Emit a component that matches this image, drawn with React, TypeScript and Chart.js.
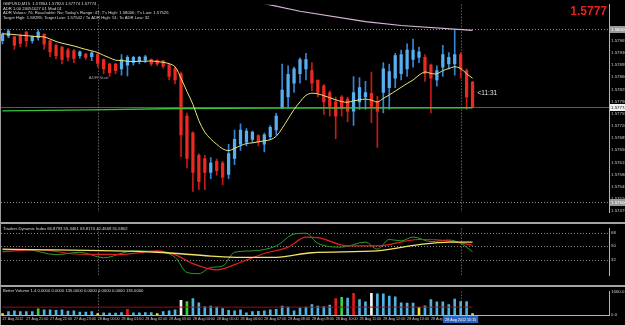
import React, { useEffect, useRef } from "react";
import { Chart, registerables } from "chart.js";

Chart.register(...registerables);

// ---------------- data ----------------
const HEADER_LINES = [
  "GBPUSD,M15  1.57804 1.57824 1.57774 1.57774",
  "ADR 1.00 20051027 01 Mod 01",
  "ADR Values: 76, Reachable: No; Today's Range: 47; T's High: 1.58006; T's Low: 1.57526",
  "Target High: 1.58285; Target Low: 1.57542 / To ADR High: 51; To ADR Low: 32",
];
const TDI_HEADER = "Traders Dynamic Index 66.8793 55.3461 63.8170 42.4669 51.6802";
const VOL_HEADER = "Better Volume 1.4 0.0000 0.0000 135.0000 0.0000 0.0000 0.0000 135.0000";
const BIG_PRICE = "1.5777";
const TIMER_TEXT = "<11:31";
const ADR_START_TEXT = "ADR Start";

const TIME_LABELS = [
  "27 Aug 2012", "27 Aug 21:00", "27 Aug 22:00", "27 Aug 23:00",
  "28 Aug 00:00", "28 Aug 01:00", "28 Aug 02:00", "28 Aug 03:00",
  "28 Aug 04:00", "28 Aug 05:00", "28 Aug 06:00", "28 Aug 07:00",
  "28 Aug 08:00", "28 Aug 09:00", "28 Aug 10:00", "28 Aug 11:00",
  "28 Aug 12:00", "28 Aug 13:00", "28 Aug 14:00",
];
const BARS_PER_LABEL = 4;
const CROSS_TIME = "28 Aug 2012 15:15";
const CROSS_INDEX = 77;
const DAY_START_INDEX = 16;
const ADR_START_INDEX = 14.5;

const CURRENT_PRICE = 1.57774;
const DOTTED_LEVELS = [1.58, 1.575];
const PRICE_TICKS = [
  1.58, 1.57965, 1.5793, 1.57895, 1.5786, 1.57825, 1.5779, 1.57755,
  1.5772, 1.57685, 1.5765, 1.57615, 1.5758, 1.57545, 1.5751, 1.57475,
];

const OPEN = [
  1.57965, 1.57979, 1.57976, 1.57979, 1.5799, 1.57965, 1.57974, 1.57984, 1.57965, 1.57952,
  1.57946, 1.57938, 1.57936, 1.57922, 1.57927, 1.57919, 1.57925, 1.57911, 1.57898, 1.57898,
  1.57884, 1.57895, 1.57903, 1.57906, 1.57909, 1.57911, 1.57909, 1.57907, 1.57895, 1.57884,
  1.5787, 1.57748, 1.577, 1.57635, 1.57626, 1.57586, 1.57618, 1.57613, 1.5758, 1.57626,
  1.57667, 1.57673, 1.57681, 1.57692, 1.57667, 1.57689, 1.57708, 1.57771, 1.57803, 1.57843,
  1.5787, 1.57884, 1.57879, 1.57852, 1.57835, 1.57816, 1.57789, 1.57803, 1.57797, 1.57762,
  1.57789, 1.57803, 1.57814, 1.57789, 1.57816, 1.5783, 1.57857, 1.5787, 1.57884, 1.57911,
  1.57917, 1.57917, 1.57895, 1.57852, 1.57889, 1.57898, 1.57898, 1.57925, 1.57879, 1.57846,
];
const HIGH = [
  1.57988, 1.57998, 1.57979, 1.57984, 1.57993, 1.57979, 1.57997, 1.57985, 1.57967, 1.57956,
  1.57949, 1.57943, 1.5794, 1.57936, 1.57929, 1.57934, 1.57929, 1.57913, 1.579, 1.579,
  1.57925, 1.57922, 1.5792, 1.5792, 1.57923, 1.57913, 1.57911, 1.57909, 1.57898, 1.57889,
  1.57875, 1.57757, 1.57703, 1.5764, 1.57635, 1.57629, 1.57624, 1.57618, 1.57667, 1.57708,
  1.57726, 1.57712, 1.57705, 1.57694, 1.57699, 1.57721, 1.57756, 1.57898, 1.57893, 1.57889,
  1.57916, 1.57929, 1.57902, 1.57852, 1.57839, 1.57821, 1.57803, 1.57807, 1.57803, 1.57862,
  1.57859, 1.57848, 1.57875, 1.57805, 1.57902, 1.57898, 1.57929, 1.57938, 1.57956, 1.5797,
  1.57947, 1.57925, 1.57898, 1.57893, 1.57952, 1.57931, 1.57997, 1.57931, 1.57884, 1.57848,
];
const LOW = [
  1.57956, 1.57974, 1.5794, 1.57947, 1.57949, 1.57958, 1.57967, 1.5794, 1.57919, 1.57913,
  1.57898, 1.57907, 1.57902, 1.57915, 1.57911, 1.57908, 1.57889, 1.5787, 1.57862, 1.5787,
  1.57866, 1.57864, 1.57895, 1.57898, 1.57902, 1.57893, 1.57893, 1.57886, 1.57852, 1.57841,
  1.57631, 1.57599, 1.57531, 1.57536, 1.57536, 1.57568, 1.57578, 1.5755, 1.57568, 1.57608,
  1.57649, 1.57662, 1.57672, 1.57662, 1.57645, 1.57681, 1.57694, 1.57771, 1.57771, 1.57816,
  1.57843, 1.57852, 1.57821, 1.57803, 1.57753, 1.57748, 1.57683, 1.57748, 1.57732, 1.57721,
  1.57767, 1.57767, 1.57729, 1.57658, 1.57757, 1.57768, 1.5783, 1.57852, 1.57862, 1.57889,
  1.57902, 1.57848, 1.57757, 1.57834, 1.57862, 1.57884, 1.57866, 1.57857, 1.57767, 1.57774,
];
const CLOSE = [
  1.57984, 1.57993, 1.57952, 1.57957, 1.57965, 1.57976, 1.5799, 1.57955, 1.57933, 1.57922,
  1.57911, 1.57917, 1.57914, 1.57933, 1.57917, 1.5793, 1.579, 1.57884, 1.57873, 1.57879,
  1.57911, 1.57917, 1.57917, 1.57917, 1.57919, 1.57898, 1.57898, 1.57892, 1.57862, 1.57852,
  1.57694, 1.57626, 1.57586, 1.57559, 1.57586, 1.57613, 1.57591, 1.57572, 1.5764, 1.57681,
  1.57708, 1.57705, 1.57702, 1.57673, 1.57694, 1.57716, 1.57748, 1.57823, 1.57868, 1.57884,
  1.57911, 1.57911, 1.57843, 1.57816, 1.57789, 1.57776, 1.57748, 1.5777, 1.57762, 1.57816,
  1.5783, 1.57816, 1.57776, 1.57762, 1.57884, 1.57876, 1.57922, 1.57925, 1.57938, 1.57938,
  1.57933, 1.5787, 1.57857, 1.57879, 1.57925, 1.57917, 1.57925, 1.57884, 1.57803, 1.57774,
];
const MA = [
  1.57985, 1.57984, 1.57983, 1.57981, 1.5798, 1.57978, 1.57977, 1.57976, 1.5797, 1.57963,
  1.57958, 1.57954, 1.5795, 1.57945, 1.5794, 1.57936, 1.57931, 1.57923, 1.57916, 1.57909,
  1.57908, 1.57906, 1.57905, 1.57906, 1.57906, 1.57907, 1.57905, 1.57903, 1.57899, 1.5789,
  1.57857, 1.57819, 1.57782, 1.57735, 1.57702, 1.57682, 1.57667, 1.57654, 1.57649, 1.57655,
  1.57663, 1.57669, 1.57671, 1.57674, 1.57677, 1.5768, 1.5769, 1.57713, 1.5774, 1.57767,
  1.57789, 1.57808, 1.57814, 1.57812, 1.57807, 1.57801, 1.57795, 1.5779, 1.57788, 1.57792,
  1.57795, 1.57797, 1.57794, 1.57789, 1.57799, 1.57809, 1.5782, 1.57831, 1.57842, 1.57852,
  1.57866, 1.57875, 1.57871, 1.5787, 1.57879, 1.57885, 1.5789, 1.57885, 1.5787, 1.57857,
];
const ADR_LINE_IDX = [0, 15, 30, 45, 79];
const ADR_LINE_VAL = [1.57763, 1.57766, 1.5777, 1.57771, 1.57772];
const UPPER_LINE_IDX = [44, 50, 61, 67, 79];
const UPPER_LINE_VAL = [1.58072, 1.5805, 1.5802, 1.58009, 1.57995];

const TDI_LEVELS = [68, 50, 32];
const TDI_RSI_IDX = [0, 4, 9, 13, 17, 22, 26, 29, 31, 33, 35, 37, 39, 42, 46, 49, 51, 53, 57, 61, 63, 65, 67, 69, 72, 75, 77, 79];
const TDI_RSI_VAL = [45.2, 45.2, 38.5, 41.8, 34.4, 43.6, 42.6, 35, 14.6, 13, 21.4, 23.2, 41.8, 43.6, 50.3, 66.3, 67.3, 53.8, 48.7, 55.4, 45.9, 58.9, 57.1, 62.2, 56.1, 58.2, 53.8, 42.6];
const TDI_SIG_IDX = [0, 6, 13, 20, 26, 29, 32, 36, 40, 44, 48, 51, 53, 58, 63, 70, 75, 79];
const TDI_SIG_VAL = [42.6, 45.2, 39.1, 38.8, 43.6, 38.5, 26.5, 18.1, 28.3, 40.1, 48.7, 62.2, 61.5, 50.3, 50.3, 58.9, 57.1, 51.3];
const TDI_BASE_IDX = [0, 26, 35, 40, 46, 52, 63, 70, 75, 79];
const TDI_BASE_VAL = [45.9, 41.8, 36.7, 35, 35, 41.1, 43.6, 52, 55.4, 55.4];

const VOLUME = [
  100, 240, 300, 240, 240, 240, 440, 360, 360, 340,
  360, 280, 300, 200, 200, 240, 100, 160, 140, 140,
  180, 400, 160, 160, 180, 180, 100, 240, 300, 360,
  1040, 960, 1160, 860, 600, 640, 560, 460, 340, 300,
  360, 160, 240, 260, 300, 360, 400, 640, 560, 300,
  500, 560, 740, 640, 600, 700, 1160, 1260, 1200, 1540,
  1100, 940, 1540, 1500, 1500, 1340, 1300, 860, 840, 840,
  540, 660, 1100, 940, 940, 740, 1140, 960, 960, 100,
];
// n = normal, u = climax up, d = climax down, c = churn, l = low volume
const VOL_TYPE = [
  "l", "n", "n", "n", "n", "n", "c", "n", "n", "n",
  "n", "n", "n", "n", "n", "n", "l", "n", "n", "n",
  "n", "u", "n", "n", "n", "n", "l", "n", "n", "n",
  "d", "c", "n", "n", "n", "n", "n", "n", "n", "n",
  "n", "n", "n", "n", "n", "n", "n", "n", "n", "n",
  "n", "n", "n", "n", "n", "n", "u", "c", "n", "u",
  "n", "n", "d", "n", "n", "n", "n", "n", "n", "n",
  "l", "n", "n", "n", "n", "n", "n", "n", "n", "l",
];
const VOL_AVG_IDX = [0, 79];
const VOL_AVG_VAL = [560, 560];
const VOL_MAX = 1660;

// ---------------- layout / style ----------------
const W = 625;
const AXIS_W = 16;
const X_MIN = -0.252;
const X_MAX = 101.93;
const PRICE_MIN = 1.57472;
const PRICE_MAX = 1.58069;
const TDI_MIN = 11.2;
const TDI_MAX = 73.5;
const FONT = "Arial, 'Liberation Sans', sans-serif";
const AXIS_TEXT = "#c8c8c8";
const VOL_COLORS: Record<string, string> = {
  n: "#4fb2e0", u: "#e01e1e", d: "#f4f4f4", c: "#3cd23c", l: "#f0e040",
};

function xScale(show: boolean): any {
  return {
    type: "linear", min: X_MIN, max: X_MAX, offset: false, display: show,
    grid: { display: false, drawTicks: false },
    border: { display: show, color: "#b4b4b4" },
    afterFit: (s: any) => { s.height = 10; },
    afterBuildTicks: (s: any) => {
      s.ticks = TIME_LABELS.map((_, k) => ({ value: k * BARS_PER_LABEL }));
    },
    ticks: {
      autoSkip: false, maxRotation: 0, align: "start", padding: 2,
      color: AXIS_TEXT, font: { family: FONT, size: 3.7 },
      callback: (v: number) => TIME_LABELS[Math.round(v / BARS_PER_LABEL)] ?? "",
    },
  };
}

function yRight(min: number, max: number, ticks: number[], fmt: (v: number) => string): any {
  return {
    position: "right", min, max,
    grid: { display: false, drawTicks: false },
    border: { display: true, color: "#b4b4b4" },
    afterFit: (s: any) => { s.width = AXIS_W; },
    afterBuildTicks: (s: any) => { s.ticks = ticks.map((v) => ({ value: v })); },
    ticks: {
      autoSkip: false, padding: 2, color: AXIS_TEXT,
      font: { family: FONT, size: 4.4 }, callback: (v: number) => fmt(v),
    },
  };
}

function vline(ctx: any, chart: any, idx: number) {
  const a = chart.chartArea;
  const x = Math.round(chart.scales.x.getPixelForValue(idx)) + 0.5;
  ctx.beginPath();
  ctx.moveTo(x, a.top);
  ctx.lineTo(x, a.bottom);
  ctx.stroke();
}

function hline(ctx: any, chart: any, y: number) {
  const a = chart.chartArea;
  const yy = Math.round(y) + 0.5;
  ctx.beginPath();
  ctx.moveTo(a.left, yy);
  ctx.lineTo(a.right, yy);
  ctx.stroke();
}

function verticalsPlugin(id: string) {
  return {
    id,
    beforeDatasetsDraw(chart: any) {
      const ctx = chart.ctx;
      ctx.save();
      ctx.strokeStyle = "#8c8c8c";
      ctx.lineWidth = 1;
      ctx.setLineDash([1, 2]);
      vline(ctx, chart, DAY_START_INDEX);
      vline(ctx, chart, CROSS_INDEX);
      ctx.restore();
    },
  };
}

function text(ctx: any, s: string, x: number, y: number, font: string, color: string, align = "left") {
  ctx.font = font;
  ctx.fillStyle = color;
  ctx.textAlign = align;
  ctx.textBaseline = "middle";
  ctx.fillText(s, x, y);
}

function priceBox(ctx: any, chart: any, value: number, bg: string, fg: string) {
  const a = chart.chartArea;
  const y = chart.scales.y.getPixelForValue(value);
  ctx.fillStyle = bg;
  ctx.fillRect(a.right + 1, Math.round(y) - 3, AXIS_W, 7);
  text(ctx, value.toFixed(5), a.right + 2, Math.round(y) + 0.5, `4.4px ${FONT}`, fg);
}

const mainPlugin = {
  id: "mainDecor",
  beforeDatasetsDraw(chart: any) {
    const ctx = chart.ctx;
    const y = chart.scales.y;
    ctx.save();
    ctx.lineWidth = 1;
    ctx.strokeStyle = "#5a5a5a";
    hline(ctx, chart, y.getPixelForValue(CURRENT_PRICE));
    ctx.setLineDash([1, 2]);
    ctx.strokeStyle = "#8c8c8c";
    DOTTED_LEVELS.forEach((lv) => hline(ctx, chart, y.getPixelForValue(lv)));
    ctx.restore();
  },
  afterDraw(chart: any) {
    const ctx = chart.ctx;
    const a = chart.chartArea;
    const xs = chart.scales.x;
    const ys = chart.scales.y;
    ctx.save();
    HEADER_LINES.forEach((s, k) => text(ctx, s, 3, 4.3 + k * 4.4, `4.2px ${FONT}`, "#d8d8d8"));
    text(ctx, ADR_START_TEXT, xs.getPixelForValue(ADR_START_INDEX), 78, `4.4px ${FONT}`, "#9a9a9a");
    text(ctx, TIMER_TEXT, xs.getPixelForValue(79) + 5, ys.getPixelForValue(CURRENT_PRICE) - 14, `6.5px ${FONT}`, "#e6e6e6");
    text(ctx, BIG_PRICE, a.right - 2, 11.5, `bold 12px ${FONT}`, "#e8201c", "right");
    priceBox(ctx, chart, DOTTED_LEVELS[0], "#9a9a9a", "#ffffff");
    priceBox(ctx, chart, DOTTED_LEVELS[1], "#9a9a9a", "#ffffff");
    priceBox(ctx, chart, CURRENT_PRICE, "#f0f0f0", "#000000");
    ctx.restore();
  },
};

const tdiPlugin = {
  id: "tdiDecor",
  beforeDatasetsDraw(chart: any) {
    const ctx = chart.ctx;
    ctx.save();
    ctx.strokeStyle = "#8c8c8c";
    ctx.lineWidth = 1;
    ctx.setLineDash([1, 2]);
    TDI_LEVELS.forEach((lv) => hline(ctx, chart, chart.scales.y.getPixelForValue(lv)));
    ctx.restore();
  },
  afterDraw(chart: any) {
    const ctx = chart.ctx;
    ctx.save();
    text(ctx, TDI_HEADER, 3, 4.5, `4.2px ${FONT}`, "#d8d8d8");
    ctx.restore();
  },
};

const volPlugin = {
  id: "volDecor",
  afterDraw(chart: any) {
    const ctx = chart.ctx;
    const a = chart.chartArea;
    const x = chart.scales.x.getPixelForValue(CROSS_INDEX);
    ctx.save();
    text(ctx, VOL_HEADER, 3, 4, `4.2px ${FONT}`, "#d8d8d8");
    ctx.font = `3.7px ${FONT}`;
    const w = ctx.measureText(CROSS_TIME).width + 4;
    ctx.fillStyle = "#2a64c0";
    ctx.fillRect(Math.round(x - w / 2), a.bottom + 1, w, 7);
    text(ctx, CROSS_TIME, x, a.bottom + 4.8, `3.7px ${FONT}`, "#ffffff", "center");
    ctx.restore();
  },
};

const pts = (idx: number[], val: number[]) => idx.map((i, k) => ({ x: i, y: val[k] }));

const baseOptions: any = {
  responsive: false,
  animation: false,
  devicePixelRatio: 1,
  events: [],
  plugins: { legend: { display: false }, tooltip: { enabled: false } },
};

export default function App() {
  const mainRef = useRef<HTMLCanvasElement>(null);
  const tdiRef = useRef<HTMLCanvasElement>(null);
  const volRef = useRef<HTMLCanvasElement>(null);

  useEffect(() => {
    document.body.style.margin = "0";
    document.body.style.background = "#000";
    const idx = OPEN.map((_, i) => i);
    const bull = (i: number) => CLOSE[i] >= OPEN[i];

    const main = new Chart(mainRef.current as HTMLCanvasElement, {
      type: "bar",
      data: {
        datasets: [
          {
            type: "line", data: pts(idx, MA), borderColor: "#ece679", borderWidth: 1,
            pointRadius: 0, tension: 0.35, order: 0,
          } as any,
          {
            type: "line", data: pts(ADR_LINE_IDX, ADR_LINE_VAL), borderColor: "#3cc23c", borderWidth: 1.4,
            pointRadius: 0, tension: 0, order: 1,
          } as any,
          {
            type: "line", data: pts(UPPER_LINE_IDX, UPPER_LINE_VAL), borderColor: "#d9b6d9", borderWidth: 1.2,
            pointRadius: 0, tension: 0, order: 1,
          } as any,
          {
            data: idx.map((i) => ({ x: i, y: [Math.min(OPEN[i], CLOSE[i]), Math.max(OPEN[i], CLOSE[i])] })),
            backgroundColor: idx.map((i) => (bull(i) ? "#57aef0" : "#ec2a20")),
            barThickness: 2.6, minBarLength: 1, grouped: false, borderWidth: 0, order: 2,
          } as any,
          {
            data: idx.map((i) => ({ x: i, y: [LOW[i], HIGH[i]] })),
            backgroundColor: idx.map((i) => (bull(i) ? "#3586d6" : "#c81a16")),
            barThickness: 1, grouped: false, borderWidth: 0, order: 3,
          } as any,
        ],
      },
      options: {
        ...baseOptions,
        layout: { padding: { left: 1, top: 2, right: 0, bottom: 0 } },
        scales: {
          x: xScale(false),
          y: yRight(PRICE_MIN, PRICE_MAX, PRICE_TICKS, (v) => v.toFixed(5)),
        },
      },
      plugins: [mainPlugin, verticalsPlugin("mainV")],
    });

    const tdi = new Chart(tdiRef.current as HTMLCanvasElement, {
      type: "line",
      data: {
        datasets: [
          { data: pts(TDI_BASE_IDX, TDI_BASE_VAL), borderColor: "#f0e46a", borderWidth: 1.3, pointRadius: 0, cubicInterpolationMode: "monotone", order: 0 } as any,
          { data: pts(TDI_SIG_IDX, TDI_SIG_VAL), borderColor: "#e02020", borderWidth: 1.2, pointRadius: 0, cubicInterpolationMode: "monotone", order: 1 } as any,
          { data: pts(TDI_RSI_IDX, TDI_RSI_VAL), borderColor: "#2e9a2e", borderWidth: 1, pointRadius: 0, cubicInterpolationMode: "monotone", order: 2 } as any,
        ],
      },
      options: {
        ...baseOptions,
        layout: { padding: { left: 1, top: 0, right: 0, bottom: 0 } },
        scales: {
          x: xScale(false),
          y: yRight(TDI_MIN, TDI_MAX, TDI_LEVELS, (v) => String(v)),
        },
      },
      plugins: [tdiPlugin, verticalsPlugin("tdiV")],
    });

    const vol = new Chart(volRef.current as HTMLCanvasElement, {
      type: "bar",
      data: {
        datasets: [
          {
            type: "line", data: pts(VOL_AVG_IDX, VOL_AVG_VAL), borderColor: "#8e1414", borderWidth: 1,
            pointRadius: 0, order: 0,
          } as any,
          {
            data: idx.map((i) => ({ x: i, y: VOLUME[i] })),
            backgroundColor: idx.map((i) => VOL_COLORS[VOL_TYPE[i]]),
            barThickness: 2, grouped: false, borderWidth: 0, order: 1,
          } as any,
        ],
      },
      options: {
        ...baseOptions,
        layout: { padding: { left: 1, top: 0, right: 0, bottom: 0 } },
        scales: {
          x: xScale(true),
          y: yRight(0, VOL_MAX, [VOL_MAX, 0], (v) => v.toFixed(1)),
        },
      },
      plugins: [volPlugin, verticalsPlugin("volV")],
    });

    return () => {
      main.destroy();
      tdi.destroy();
      vol.destroy();
    };
  }, []);

  const sep = (top: number) => (
    <div style={{ position: "absolute", left: 0, top, width: W, height: 2, background: "#a4a4a4" }} />
  );

  return (
    <div style={{ position: "fixed", left: 0, top: 0, width: W, height: 325, background: "#000", overflow: "hidden" }}>
      <canvas ref={mainRef} width={W} height={222} style={{ position: "absolute", left: 0, top: 0 }} />
      {sep(222)}
      <canvas ref={tdiRef} width={W} height={61} style={{ position: "absolute", left: 0, top: 224 }} />
      {sep(285)}
      <canvas ref={volRef} width={W} height={38} style={{ position: "absolute", left: 0, top: 287 }} />
      <div style={{ position: "absolute", left: 0, top: 0, width: 1, height: 325, background: "#9a9a9a" }} />
    </div>
  );
}
